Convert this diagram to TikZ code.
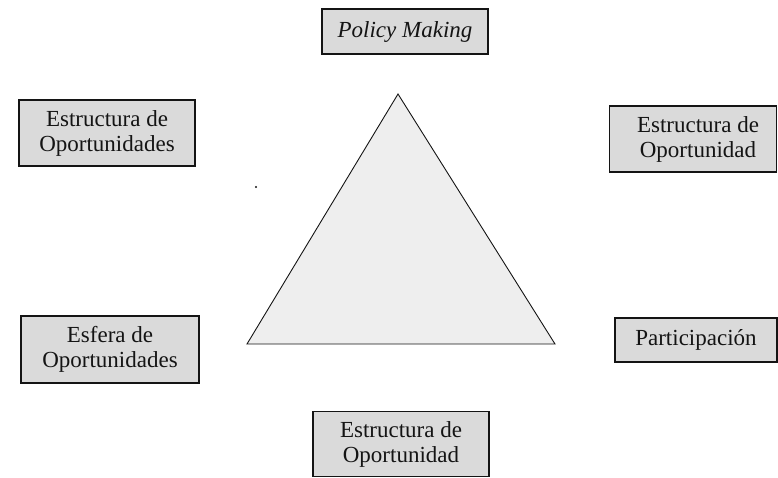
\documentclass[tikz,border=0pt]{standalone}
\usepackage{fontspec}
\setmainfont{Liberation Serif}
\usepackage{tikz}
\usetikzlibrary{positioning}
\definecolor{scInk}{HTML}{141414}
\definecolor{scSpeck}{HTML}{DADADA}
\tikzset{
  sc diagram/.style={x=1pt, y=-1pt, text=scInk,
    font=\fontsize{23}{25}\selectfont, line join=miter},
  sc box/.style={draw=scInk, fill=scSpeck, line width=1.4pt,
    align=center, inner sep=1pt, minimum height=66pt},
  sc single box/.style={sc box, minimum height=44pt},
  sc triangle/.style={draw=scInk, fill=scSpeck!45, line width=0.9pt}
}

\begin{document}
\begin{tikzpicture}[sc diagram]
\useasboundingbox (0,0) rectangle (778,477);
% the triangle in the middle
\coordinate (apex) at (398,94);
\coordinate (baseL) at (247,344);
\coordinate (baseR) at (555,344);
\filldraw[sc triangle] (apex) -- (baseL) -- (baseR) -- cycle;
\fill[scInk] (256,187) circle (1.1pt);
% boxes round it
\node[sc single box,minimum width=166pt,minimum height=45pt] (policy) at (405,31.5) {\itshape Policy Making};
\node[sc box,minimum width=176pt] (estrL) at (107,133) {Estructura de\\Oportunidades};
\node[sc box,minimum width=167pt] (estrR) at (693,139) {\hspace*{10pt}Estructura de\\\hspace*{10pt}Oportunidad};
\node[sc box,minimum width=178pt,minimum height=67pt] (esfera) at (110,349.5) {Esfera de\\Oportunidades};
\node[sc single box,minimum width=162pt] (partic) at (696,340) {Participación};
\node[sc box,minimum width=176pt,minimum height=65pt] (estrB) at (401,444) {Estructura de\\Oportunidad};
\end{tikzpicture}
\end{document}
